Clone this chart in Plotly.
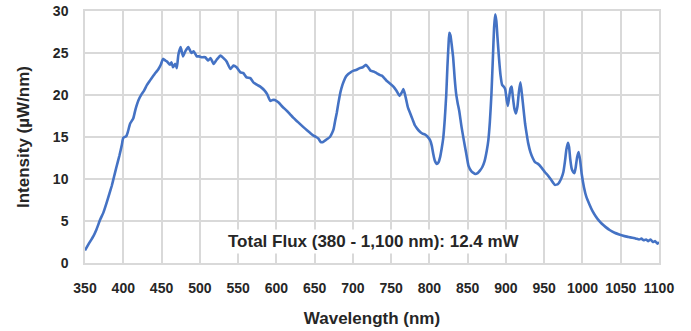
import plotly.graph_objects as go

wavelength = [350, 355, 361, 365, 370, 374, 378, 382, 385, 388, 391, 395, 398, 400, 404, 406, 409, 413, 416, 420,
              424, 427, 431, 434, 437, 441, 446, 449, 452, 455, 457, 461, 463, 465, 468, 470, 472, 475, 478, 481,
              485, 489, 492, 496, 499, 502, 507, 511, 514, 518, 522, 527, 532, 535, 540, 544, 548, 553, 557, 561,
              566, 570, 575, 579, 585, 588, 592, 595, 598, 603, 608, 614, 618, 622, 628, 635, 640, 644, 648, 652,
              655, 658, 661, 664, 667, 670, 673, 675, 677, 679, 681, 683, 685, 688, 691, 694, 697, 701, 705, 709,
              713, 717, 720, 723, 727, 731, 735, 738, 741, 744, 748, 753, 757, 761, 764, 766, 768, 770, 772, 775,
              778, 781, 784, 788, 791, 794, 798, 801, 803, 805, 807, 809.5, 812, 814, 816, 818, 820, 822, 823.5, 825,
              826, 827.5, 829, 831, 833, 835, 837, 839, 842, 845, 848, 851, 855, 860, 863, 866, 869, 872, 875, 877,
              879, 881, 883, 884.5, 886, 887.5, 889, 891, 893, 895, 897, 899, 901, 902.5, 904, 906, 907.5, 909, 911, 913,
              915, 917, 919, 921, 923, 925, 927, 929, 932, 935, 938, 942, 947, 951, 955, 959, 964, 968, 972, 975,
              977, 979, 981, 982.5, 984, 986, 988, 989.5, 991, 993, 995, 997, 999, 1002, 1005, 1009, 1013, 1017, 1021, 1025,
              1030, 1036, 1042, 1048, 1055, 1060, 1065, 1070, 1074, 1077, 1080, 1083, 1086, 1089, 1092, 1095, 1098, 1100]

intensity = [1.5, 2.3, 3.2, 4.0, 5.2, 6.0, 7.1, 8.3, 9.2, 10.3, 11.4, 12.8, 14.0, 14.9, 15.1, 15.6, 16.6, 17.2, 18.3, 19.4,
             20.1, 20.5, 21.2, 21.6, 22.0, 22.5, 23.1, 23.6, 24.3, 24.1, 24.0, 23.6, 23.9, 23.3, 23.7, 23.2, 24.8, 25.7, 24.6, 25.2,
             25.7, 25.0, 25.2, 24.6, 24.6, 24.5, 24.5, 24.1, 24.4, 23.7, 24.2, 24.7, 24.3, 24.0, 23.1, 23.5, 23.3, 22.7, 22.6, 22.1,
             22.0, 21.5, 21.2, 21.0, 20.5, 20.1, 19.3, 19.4, 19.4, 19.1, 18.6, 18.1, 17.7, 17.3, 16.8, 16.2, 15.8, 15.5, 15.2, 15.0,
             14.8, 14.4, 14.4, 14.6, 14.8, 15.0, 15.5, 16.0, 17.0, 17.9, 19.0, 20.0, 20.8, 21.6, 22.2, 22.5, 22.7, 22.9, 23.0, 23.2,
             23.3, 23.6, 23.3, 22.9, 22.8, 22.6, 22.4, 22.3, 22.0, 21.7, 21.4, 21.0, 20.5, 19.9, 20.3, 20.7, 20.1, 19.3, 18.5, 17.8,
             17.1, 16.4, 16.0, 15.6, 15.4, 15.3, 15.0, 14.6, 14.0, 13.0, 12.2, 11.8, 12.0, 12.6, 13.6, 14.8, 17.0, 20.0, 23.3, 26.0,
             27.4, 27.1, 26.1, 24.5, 22.0, 20.1, 19.0, 18.1, 16.2, 14.6, 13.1, 11.6, 10.9, 10.6, 10.7, 11.0, 11.4, 12.1, 13.4, 14.6,
             16.8, 20.0, 24.5, 28.0, 29.6, 28.8, 26.8, 24.3, 22.3, 21.2, 21.0, 20.7, 19.4, 18.7, 19.6, 20.8, 21.0, 19.8, 18.4, 17.8,
             18.6, 20.4, 21.5, 20.0, 18.3, 16.6, 15.4, 14.3, 13.2, 12.5, 12.0, 11.8, 11.3, 10.8, 10.4, 9.9, 9.3, 9.4, 10.0, 10.8,
             12.0, 13.5, 14.3, 13.8, 12.4, 11.2, 10.8, 10.7, 11.3, 12.6, 13.2, 12.2, 10.6, 9.0, 7.9, 7.0, 6.2, 5.6, 5.1, 4.7,
             4.3, 3.9, 3.6, 3.4, 3.2, 3.1, 3.0, 2.9, 2.8, 2.9, 2.7, 2.8, 2.6, 2.8, 2.5, 2.6, 2.3, 2.5]

x_ticks = list(range(350, 1101, 50))
y_ticks = [0, 5, 10, 15, 20, 25, 30]
annotation_text = "Total Flux (380 - 1,100 nm): 12.4 mW"

FONT = "Liberation Sans, Arial, sans-serif"
TXT = "#262626"
GRID = "#d9d9d9"

fig = go.Figure()
fig.add_trace(go.Scatter(x=wavelength, y=intensity, mode="lines",
                         line=dict(color="#4472C4", width=2.6, shape="spline", smoothing=0.4),
                         hoverinfo="skip", showlegend=False))

fig.add_annotation(x=727, y=2.55, xref="x", yref="y", text=annotation_text, showarrow=False,
                   font=dict(family=FONT, size=17, color=TXT, weight="bold"),
                   bgcolor="white", borderpad=2)

fig.update_layout(
    width=691, height=331,
    margin=dict(l=85, r=32, t=11, b=68, autoexpand=False),
    paper_bgcolor="white", plot_bgcolor="white",
    font=dict(family=FONT, color=TXT),
    xaxis=dict(range=[350, 1100], tickvals=x_ticks, ticktext=[str(v) for v in x_ticks],
               automargin=False,
               showgrid=True, gridcolor=GRID, gridwidth=1.5, zeroline=False,
               showline=True, linecolor=GRID, linewidth=1.5, mirror=True,
               ticks="", ticklabelstandoff=11, ticklabeloverflow="allow",
               tickfont=dict(family=FONT, size=14, color=TXT, weight="bold"),
               title=dict(text="Wavelength (nm)", standoff=18,
                          font=dict(family=FONT, size=17, color=TXT, weight="bold"))),
    yaxis=dict(range=[0, 30], tickvals=y_ticks,
               automargin=False,
               showgrid=True, gridcolor=GRID, gridwidth=1.5, zeroline=False,
               showline=True, linecolor=GRID, linewidth=1.5, mirror=True,
               ticks="", ticklabelstandoff=12, ticklabeloverflow="allow",
               tickfont=dict(family=FONT, size=14, color=TXT, weight="bold"),
               title=dict(text="Intensity (µW/nm)", standoff=19,
                          font=dict(family=FONT, size=17, color=TXT, weight="bold"))),
)

fig.write_html("out.html", config={"displayModeBar": False},
               post_script="document.body.style.margin='0px';")
